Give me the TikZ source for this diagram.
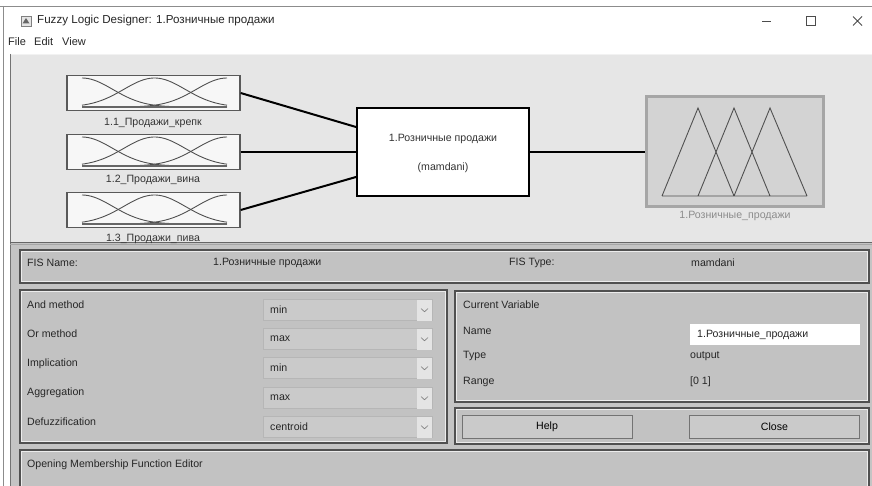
\documentclass[tikz,border=0pt]{standalone}
\usepackage{fontspec}
\setmainfont{Liberation Sans}
\definecolor{topbg}{HTML}{E6E6E6}
\definecolor{botbg}{HTML}{C4C4C4}
\definecolor{panelfill}{HTML}{C2C2C2}
\definecolor{paneledge}{HTML}{505050}
\definecolor{ddfill}{HTML}{CACACA}
\definecolor{ddarrow}{HTML}{E4E4E4}
\definecolor{mfline}{HTML}{505050}
\definecolor{outfill}{HTML}{D3D3D3}
\definecolor{outedge}{HTML}{A6A6A6}
\tikzset{
  ui/.style={font=\fontsize{10.6}{12}\selectfont, inner sep=0pt, anchor=west, text=black!85},
  lbl/.style={font=\fontsize{10.6}{12}\selectfont, inner sep=0pt, text=black!80},
  inbox/.style={draw=black!65, fill=white!94!gray, line width=1.3pt, minimum width=173pt, minimum height=35pt, inner sep=0pt},
  fisbox/.style={draw=black, fill=white, line width=2pt, minimum width=172pt, minimum height=88pt, inner sep=0pt},
  outbox/.style={draw=outedge, fill=outfill, line width=3pt, minimum width=177pt, minimum height=110pt, inner sep=0pt},
  conn/.style={draw=black, line width=2pt},
  mf/.style={draw=mfline, line width=0.9pt},
  panel/.style={draw=paneledge, fill=panelfill, line width=1.2pt},
  panelin/.style={draw=white!85!gray, line width=0.6pt},
  dd/.style={fill=ddfill, draw=ddfill!90!black, line width=0.4pt},
  btn/.style={draw=black!55, fill=ddfill, line width=1pt, minimum width=170pt, minimum height=23pt, inner sep=0pt, font=\fontsize{10.6}{12}\selectfont}
}
\begin{document}
\begin{tikzpicture}[x=1pt,y=-1pt]
\useasboundingbox (0,0) rectangle (872,486);
\fill[white] (0,0) rectangle (872,486);
% window edges
\draw[black!45, line width=0.8pt] (0,6) -- (872,6);
\draw[black!45, line width=0.8pt] (3,6) -- (3,486);
% title bar
\node[draw=black!50, fill=black!10, minimum width=10pt, minimum height=10pt, inner sep=0pt] (icon) at (26,21) {};
\fill[black!60] (22.5,23.5) -- (26,18) -- (29.5,23.5) -- cycle;
\node[anchor=west, inner sep=0pt, font=\fontsize{11.6}{13}\selectfont, text=black!85] (title) at (37,21) {Fuzzy Logic Designer: 1.Розничные продажи};
\draw[black!70, line width=1pt] (762,22) -- (771,22);
\draw[black!70, line width=1pt] (806.5,16.5) rectangle (815.5,25.5);
\draw[black!70, line width=1pt] (853,16.5) -- (862,25.5) (853,25.5) -- (862,16.5);
% menu
\node[anchor=west, inner sep=0pt, font=\fontsize{11}{13}\selectfont, text=black!85] (mfile) at (8,42) {File};
\node[anchor=west, inner sep=0pt, font=\fontsize{11}{13}\selectfont, text=black!85] (medit) at (34,42) {Edit};
\node[anchor=west, inner sep=0pt, font=\fontsize{11}{13}\selectfont, text=black!85] (mview) at (62,42) {View};
% top area
\fill[topbg] (10,54) rectangle (872,242);
\draw[white!90!gray, line width=1pt] (10,54.5) -- (872,54.5);
\draw[black!55, line width=1pt] (10,54) -- (10,486);
% bottom area
\fill[botbg] (10.5,242) rectangle (872,486);
\draw[black!60, line width=1pt] (10,242.5) -- (872,242.5);
\draw[black!35, line width=1pt] (10,245) -- (872,245);
% input boxes
\node[inbox] (in1) at (153.5,93) {};
\node[inbox] (in2) at (153.5,152) {};
\node[inbox] (in3) at (153.5,210) {};
\foreach \cy in {93,152,210}{
  \draw[mf] plot[domain=82:227, samples=50, smooth] (\x, {\cy+14-29*exp(-(((\x-82)/10)^2)/18.97)});
  \draw[mf] plot[domain=82:227, samples=50, smooth] (\x, {\cy+14-29*exp(-(((\x-154.5)/10)^2)/18.97)});
  \draw[mf] plot[domain=82:227, samples=50, smooth] (\x, {\cy+14-29*exp(-(((\x-227)/10)^2)/18.97)});
  \draw[black!60, line width=1.6pt] (82,\cy+14) -- (227,\cy+14);
}
\node[lbl] (l1) at (153,123) {1.1\_Продажи\_крепк};
\node[lbl] (l2) at (153,180) {1.2\_Продажи\_вина};
\node[lbl] (l3) at (153,239) {1.3\_Продажи\_пива};
% FIS box
\node[fisbox] (fis) at (443,152) {};
\node[lbl] (fisname) at (443,139) {1.Розничные продажи};
\node[lbl] (fistype) at (443,168) {(mamdani)};
% output box
\node[outbox] (out) at (734.5,152) {};
\draw[mf] (662,196) -- (698,108) -- (734,196)
          (698,196) -- (734,108) -- (770,196)
          (734,196) -- (770,108) -- (807,196)
          (662,196) -- (807,196);
\node[lbl, text=black!45] (outlbl) at (735,216) {1.Розничные\_продажи};
% connectors
\draw[conn] (in1.east) -- ([yshift=25pt]fis.west);
\draw[conn] (in2.east) -- (fis.west);
\draw[conn] (in3.east) -- ([yshift=-25pt]fis.west);
\draw[conn] (fis.east) -- (out.west);
% FIS name panel
\draw[panel] (20,250) rectangle (869,283);
\draw[panelin] (21.5,251.5) rectangle (867.5,281.5);
\node[ui] (fn) at (27,263) {FIS Name:};
\node[ui] (fnv) at (213,263) {1.Розничные продажи};
\node[ui] (ft) at (509,263) {FIS Type:};
\node[ui] (ftv) at (691,263) {mamdani};
% methods panel
\draw[panel] (20,290) rectangle (447,443);
\draw[panelin] (21.5,291.5) rectangle (445.5,441.5);
\foreach \ly/\dy/\lab/\val in {305/310/And method/min, 334/339/Or method/max, 364/368/Implication/min, 393/398/Aggregation/max, 422/427/Defuzzification/centroid}{
  \node[ui] at (27,\ly) {\lab};
  \draw[dd] (263,\dy-10.5) rectangle (432,\dy+10.5);
  \fill[ddarrow] (417,\dy-10.5) rectangle (432,\dy+10.5);
  \draw[black!50, line width=0.6pt] (421,\dy-1.5) -- (424.5,\dy+1.8) -- (428,\dy-1.5);
  \node[ui] at (270,\dy) {\val};
}
% current variable panel
\draw[panel] (455,291) rectangle (869,402);
\draw[panelin] (456.5,292.5) rectangle (867.5,400.5);
\node[ui] (cv) at (463,305) {Current Variable};
\node[ui] (nm) at (463,331) {Name};
\node[ui] (tp) at (463,356) {Type};
\node[ui] (rg) at (463,382) {Range};
\node[draw=white, fill=white, minimum width=169pt, minimum height=20pt, inner sep=0pt] (namefield) at (774.5,334) {};
\node[ui] (nmv) at (697,335) {1.Розничные\_продажи};
\node[ui] (tpv) at (690,356) {output};
\node[ui] (rgv) at (690,382) {[0 1]};
% buttons panel
\draw[panel] (455,408) rectangle (869,444);
\draw[panelin] (456.5,409.5) rectangle (867.5,442.5);
\node[btn] (help) at (547,426.5) {Help};
\node[btn] (close) at (774.5,426.5) {Close};
% status panel
\draw[panel] (20,450) rectangle (869,490);
\draw[panelin] (21.5,451.5) rectangle (867.5,488.5);
\node[ui] (status) at (27,465) {Opening Membership Function Editor};
\end{tikzpicture}
\end{document}
